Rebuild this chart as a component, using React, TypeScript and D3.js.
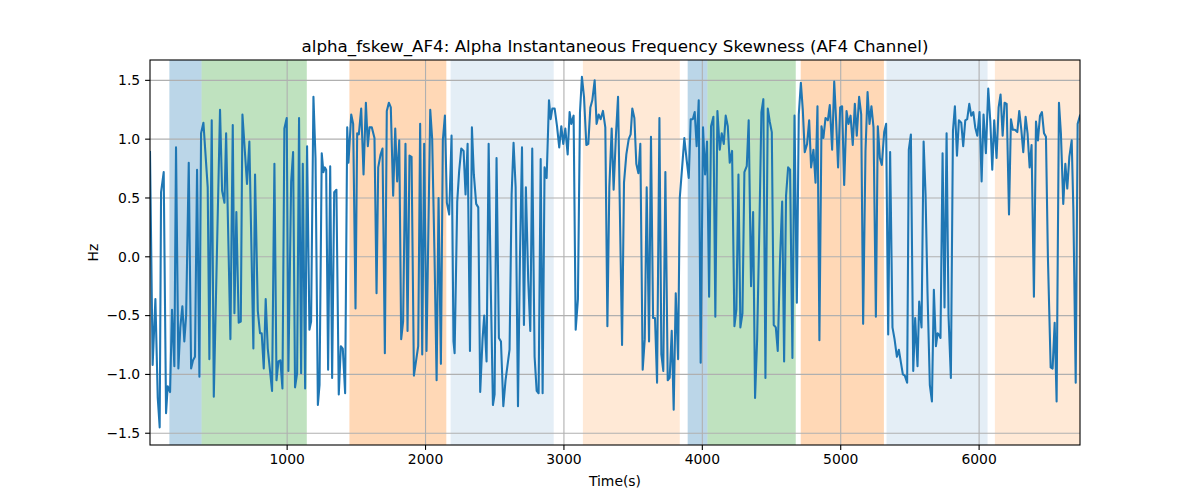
import * as d3 from "d3";
import { useMemo } from "react";

const TITLE = "alpha_fskew_AF4: Alpha Instantaneous Frequency Skewness (AF4 Channel)";
const X_LABEL = "Time(s)";
const Y_LABEL = "Hz";

const X_TICKS = [1000, 2000, 3000, 4000, 5000, 6000];
const Y_TICKS = [-1.5, -1.0, -0.5, 0.0, 0.5, 1.0, 1.5];

// shaded segments: start, end (s) and colour / opacity
const BAND_START = [149, 382, 1450, 2181, 3137, 3894, 4037, 4711, 5331, 6114];
const BAND_END = [382, 1142, 2150, 2926, 3837, 4037, 4675, 5312, 6061, 6729];
const BAND_COLOR = ["#1f77b4", "#2ca02c", "#ff7f0e", "#1f77b4", "#ff7f0e", "#1f77b4", "#2ca02c", "#ff7f0e", "#1f77b4", "#ff7f0e"];
const BAND_ALPHA = [0.3, 0.3, 0.3, 0.12, 0.17, 0.3, 0.3, 0.3, 0.12, 0.17];

// time (s) of each sample
const TIMES = [
  9, 28, 48, 65, 79, 89, 108, 125, 137, 154, 168, 185, 197, 214, 228, 243, 257, 270, 289, 306,
  320, 334, 349, 366, 378, 395, 426, 438, 455, 470, 515, 530, 547, 559, 590, 607, 619, 633, 650, 665,
  677, 710, 727, 756, 768, 788, 804, 816, 831, 845, 860, 891, 908, 923, 937, 951, 966, 980, 997, 1009,
  1029, 1043, 1057, 1072, 1086, 1101, 1113, 1130, 1144, 1161, 1173, 1190, 1205, 1222, 1234, 1250, 1262, 1272, 1282, 1296,
  1311, 1325, 1340, 1356, 1373, 1388, 1402, 1419, 1434, 1443, 1463, 1477, 1494, 1506, 1518, 1535, 1552, 1569, 1583, 1595,
  1612, 1631, 1646, 1658, 1675, 1689, 1706, 1720, 1735, 1749, 1766, 1781, 1795, 1810, 1824, 1838, 1855, 1870, 1884, 1899,
  1916, 1932, 1947, 1961, 1976, 1990, 2007, 2034, 2048, 2065, 2080, 2094, 2111, 2125, 2140, 2154, 2171, 2188, 2202, 2210,
  2229, 2243, 2258, 2275, 2289, 2304, 2321, 2335, 2349, 2366, 2381, 2395, 2412, 2424, 2441, 2456, 2472, 2487, 2499, 2513,
  2530, 2545, 2562, 2578, 2607, 2622, 2636, 2651, 2668, 2682, 2697, 2711, 2725, 2742, 2757, 2771, 2788, 2803, 2817, 2832,
  2846, 2860, 2875, 2892, 2904, 2916, 2933, 2950, 2966, 2981, 2995, 3010, 3027, 3041, 3053, 3070, 3085, 3101, 3116, 3130,
  3145, 3162, 3176, 3191, 3205, 3222, 3236, 3251, 3265, 3282, 3299, 3314, 3328, 3345, 3359, 3376, 3391, 3420, 3434, 3451,
  3468, 3482, 3494, 3509, 3523, 3538, 3552, 3569, 3584, 3598, 3615, 3629, 3644, 3658, 3673, 3690, 3704, 3718, 3733, 3750,
  3764, 3779, 3793, 3808, 3825, 3837, 3856, 3870, 3887, 3902, 3916, 3931, 3945, 3959, 3974, 3988, 4005, 4020, 4034, 4049,
  4063, 4080, 4094, 4109, 4126, 4140, 4155, 4169, 4184, 4198, 4215, 4232, 4246, 4261, 4275, 4290, 4304, 4321, 4335, 4352,
  4367, 4381, 4396, 4413, 4427, 4441, 4456, 4473, 4487, 4502, 4516, 4531, 4545, 4562, 4577, 4591, 4605, 4620, 4634, 4651,
  4666, 4683, 4697, 4712, 4726, 4740, 4757, 4772, 4786, 4803, 4818, 4832, 4846, 4861, 4875, 4890, 4907, 4921, 4938, 4953,
  4967, 4981, 4996, 5010, 5025, 5042, 5056, 5071, 5087, 5102, 5116, 5133, 5148, 5162, 5179, 5194, 5208, 5222, 5237, 5254,
  5268, 5283, 5297, 5314, 5328, 5343, 5357, 5374, 5389, 5406, 5420, 5435, 5449, 5463, 5480, 5492, 5507, 5524, 5538, 5555,
  5567, 5584, 5599, 5613, 5627, 5644, 5659, 5673, 5688, 5700, 5709, 5721, 5736, 5750, 5765, 5779, 5796, 5811, 5825, 5840,
  5854, 5871, 5885, 5900, 5914, 5929, 5943, 5958, 5972, 5987, 6003, 6018, 6032, 6049, 6066, 6081, 6095, 6109, 6126, 6141,
  6155, 6170, 6184, 6199, 6216, 6230, 6244, 6259, 6276, 6290, 6305, 6319, 6336, 6350, 6365, 6379, 6396, 6411, 6425, 6440,
  6454, 6469, 6483, 6497, 6517, 6531, 6546, 6560, 6577, 6591, 6608, 6623, 6637, 6652, 6669, 6681, 6698, 6712, 6729,
];

// alpha skewness (Hz) at each sample
const VALUES = [
  0.89, -0.92, -0.36, -1.2, -1.45, 0.55, 0.72, -1.33, -1.1, -1.15, -0.45, -0.93, 0.93, -0.95, -0.6, -0.42, -0.72, -0.5, 0.8, -0.95,
  -0.88, -0.85, 0.74, -1.02, 1.05, 1.14, 0.59, -0.87, 1.16, -1.19, 1.25, 0.56, 0.46, 1.05, -0.7, 1.12, -0.48, 0.38, -0.56, -0.55,
  1.21, 0.62, 0.98, -0.78, 0.7, -0.46, -0.65, -0.65, -0.95, -0.36, -0.78, -1.14, 0.79, -1.05, -0.89, -0.88, -1.12, 1.09, 1.18, -0.97,
  0.64, 0.89, -1.11, -0.99, 1.18, -0.99, 0.79, -1.12, 0.94, -0.62, -0.55, 1.36, 0.84, -1.26, -1.09, 0.88, 0.72, 0.76, 0.74, -0.96,
  0.77, -1.03, 0.55, 0.57, -1.17, -0.76, -0.78, -1.16, 1.1, 0.8, 1.21, 1.13, -0.44, 1.05, 1.04, 1.26, 0.7, 1.31, 0.94, 1.1,
  1.1, 1.01, -0.31, 0.76, 0.87, 0.92, -0.82, 1.24, 1.31, 1.27, 0.52, 1.09, 0.64, 0.99, -0.7, -0.55, 0.96, -0.63, 0.86, 0.85,
  -1.01, -0.88, -0.76, 1.13, -0.83, 0.96, -0.8, 1.25, 1.0, 0.0, -1.05, 0.5, -0.91, 0.99, 1.2, 0.46, 0.36, 1.03, -0.72, -0.82,
  0.47, 0.73, 0.92, 0.9, 0.53, 0.96, -0.8, 1.1, 0.7, 0.45, 0.42, -1.15, -0.7, -0.5, -0.89, 0.96, -0.3, -1.26, -1.17, 0.84,
  -0.69, -0.72, -1.27, -1.05, -0.79, 0.53, 0.97, 0.59, -1.27, -0.02, 0.93, -0.58, 0.59, -0.2, -0.63, 0.92, -0.85, -1.14, -1.16, 0.83,
  -1.16, 0.76, 0.67, 1.33, 1.17, 1.26, 1.26, 1.11, 0.93, 1.11, 0.96, 1.09, 0.87, 1.23, 1.13, 1.2, -0.62, -0.36, 1.23, 1.53,
  1.36, 0.95, 0.96, 1.27, 1.33, 1.5, 1.13, 1.21, 1.17, 1.24, 1.1, -0.59, 0.59, 1.09, 0.57, 1.04, 1.36, -0.75, 0.63, 0.87,
  1.0, 1.04, 1.26, 1.18, 0.79, 0.71, 0.96, -0.96, -0.7, 0.59, -0.72, 1.02, -0.52, -0.52, -1.07, 1.18, -0.83, -0.97, 0.72, -1.05,
  -1.03, -0.63, -1.3, -0.31, -0.87, 0.5, 0.79, 1.01, 0.82, 0.67, 1.17, 1.17, 1.23, 0.94, 1.33, -0.9, 1.1, 0.7, 0.98, -0.34,
  1.11, 1.19, -0.51, 1.24, 0.91, 1.05, 0.96, 1.2, 1.11, 0.8, 0.9, -0.59, -0.45, 0.7, -0.6, -0.48, 0.72, 0.77, 1.16, -0.25,
  0.38, -1.2, -0.7, 0.3, 1.23, 1.34, -1.03, 1.26, 1.15, 1.06, -0.58, -0.6, -0.8, 0.0, 0.47, -0.89, 0.52, 0.76, 0.74, -0.86,
  1.2, -0.39, 1.21, 1.48, 1.25, 0.89, 0.96, 1.16, 0.76, 0.91, 0.63, 1.28, -0.71, 1.11, 1.01, 1.18, 1.16, 1.29, 0.91, 1.49,
  1.15, 0.76, 1.27, 1.28, 0.61, 1.24, 1.13, 1.2, 0.95, 1.3, 1.03, 1.36, 1.21, -0.57, 0.9, 1.4, 1.13, 1.28, 1.1, -0.51,
  1.11, 0.84, 0.78, 1.06, 1.13, -0.66, 0.89, -0.6, -0.7, -0.85, -0.79, -0.9, -1.0, -1.01, -1.07, 0.91, 1.04, -0.97, -0.52, -0.93,
  -0.38, -0.6, 0.98, 0.53, -0.3, -1.09, -1.23, -0.28, -0.76, -0.65, -0.66, -0.69, 0.88, -0.43, 1.05, -0.5, -1.03, 1.07, 1.28, 0.86,
  1.16, 1.14, 0.94, 1.16, 1.17, 1.3, 1.2, 1.23, 1.1, 1.03, 1.23, 0.64, 1.21, 0.88, 1.43, 1.15, 0.74, 1.16, 0.84, 1.27,
  1.38, 1.03, 1.31, 1.3, 0.36, 1.17, 1.08, 1.08, 1.06, 1.24, 1.08, 0.89, 1.19, 1.05, 0.76, 0.95, -0.34, 1.15, 0.99, 1.2,
  1.23, 1.05, 1.02, 0.0, -0.94, -0.95, -0.56, -1.23, 1.31, 1.05, 0.45, 0.79, 0.58, 0.85, 0.99, 0.4, -1.07, 1.13, 1.2,
];

const WIDTH = 1200;
const HEIGHT = 500;
const MARGIN = { top: 60, right: 120, bottom: 55, left: 150 };
const FONT = "DejaVu Sans, sans-serif";

export default function App() {
  const innerW = WIDTH - MARGIN.left - MARGIN.right;
  const innerH = HEIGHT - MARGIN.top - MARGIN.bottom;

  const x = useMemo(
    () => d3.scaleLinear().domain([9, 6729]).range([0, innerW]),
    [innerW],
  );
  const y = useMemo(
    () => d3.scaleLinear().domain([-1.6, 1.673]).range([innerH, 0]),
    [innerH],
  );

  const points = TIMES.map((t, i) => [t, VALUES[i]] as [number, number]);
  const linePath = d3
    .line<[number, number]>()
    .x((d) => x(d[0]))
    .y((d) => y(d[1]))(points);

  return (
    <svg
      width={WIDTH}
      height={HEIGHT}
      style={{ position: "absolute", left: 0, top: 0, background: "white" }}
      fontFamily={FONT}
    >
      <text
        x={MARGIN.left + innerW / 2}
        y={52}
        textAnchor="middle"
        fontSize={16.7}
        fill="#000"
      >
        {TITLE}
      </text>

      <g transform={`translate(${MARGIN.left},${MARGIN.top})`}>
        <defs>
          <clipPath id="plot-clip">
            <rect x={0} y={0} width={innerW} height={innerH} />
          </clipPath>
        </defs>

        {BAND_START.map((s, i) => (
          <rect
            key={`band-${i}`}
            x={x(s)}
            y={0}
            width={x(BAND_END[i]) - x(s)}
            height={innerH}
            fill={BAND_COLOR[i]}
            fillOpacity={BAND_ALPHA[i]}
          />
        ))}

        {/* grid */}
        {X_TICKS.map((t) => (
          <line
            key={`gx-${t}`}
            x1={x(t)}
            x2={x(t)}
            y1={0}
            y2={innerH}
            stroke="#b0b0b0"
            strokeWidth={1.1}
          />
        ))}
        {Y_TICKS.map((t) => (
          <line
            key={`gy-${t}`}
            x1={0}
            x2={innerW}
            y1={y(t)}
            y2={y(t)}
            stroke="#b0b0b0"
            strokeWidth={1.1}
          />
        ))}

        <path
          d={linePath ?? ""}
          fill="none"
          stroke="#1f77b4"
          strokeWidth={2.08}
          strokeLinejoin="round"
          strokeLinecap="square"
          clipPath="url(#plot-clip)"
        />

        <rect
          x={0}
          y={0}
          width={innerW}
          height={innerH}
          fill="none"
          stroke="#000"
          strokeWidth={1.1}
        />

        {/* x axis */}
        {X_TICKS.map((t) => (
          <g key={`xt-${t}`} transform={`translate(${x(t)},${innerH})`}>
            <line y1={0} y2={4.9} stroke="#000" strokeWidth={1.1} />
            <text y={19} textAnchor="middle" fontSize={13.9} fill="#000">
              {t}
            </text>
          </g>
        ))}
        <text
          x={innerW / 2}
          y={innerH + 41}
          textAnchor="middle"
          fontSize={13.9}
          fill="#000"
        >
          {X_LABEL}
        </text>

        {/* y axis */}
        {Y_TICKS.map((t) => (
          <g key={`yt-${t}`} transform={`translate(0,${y(t)})`}>
            <line x1={0} x2={-4.9} stroke="#000" strokeWidth={1.1} />
            <text
              x={-9.8}
              dy="0.35em"
              textAnchor="end"
              fontSize={13.9}
              fill="#000"
            >
              {t.toFixed(1).replace("-", "\u2212")}
            </text>
          </g>
        ))}
        <text
          transform={`translate(${-52},${innerH / 2}) rotate(-90)`}
          textAnchor="middle"
          fontSize={13.9}
          fill="#000"
        >
          {Y_LABEL}
        </text>
      </g>
    </svg>
  );
}
